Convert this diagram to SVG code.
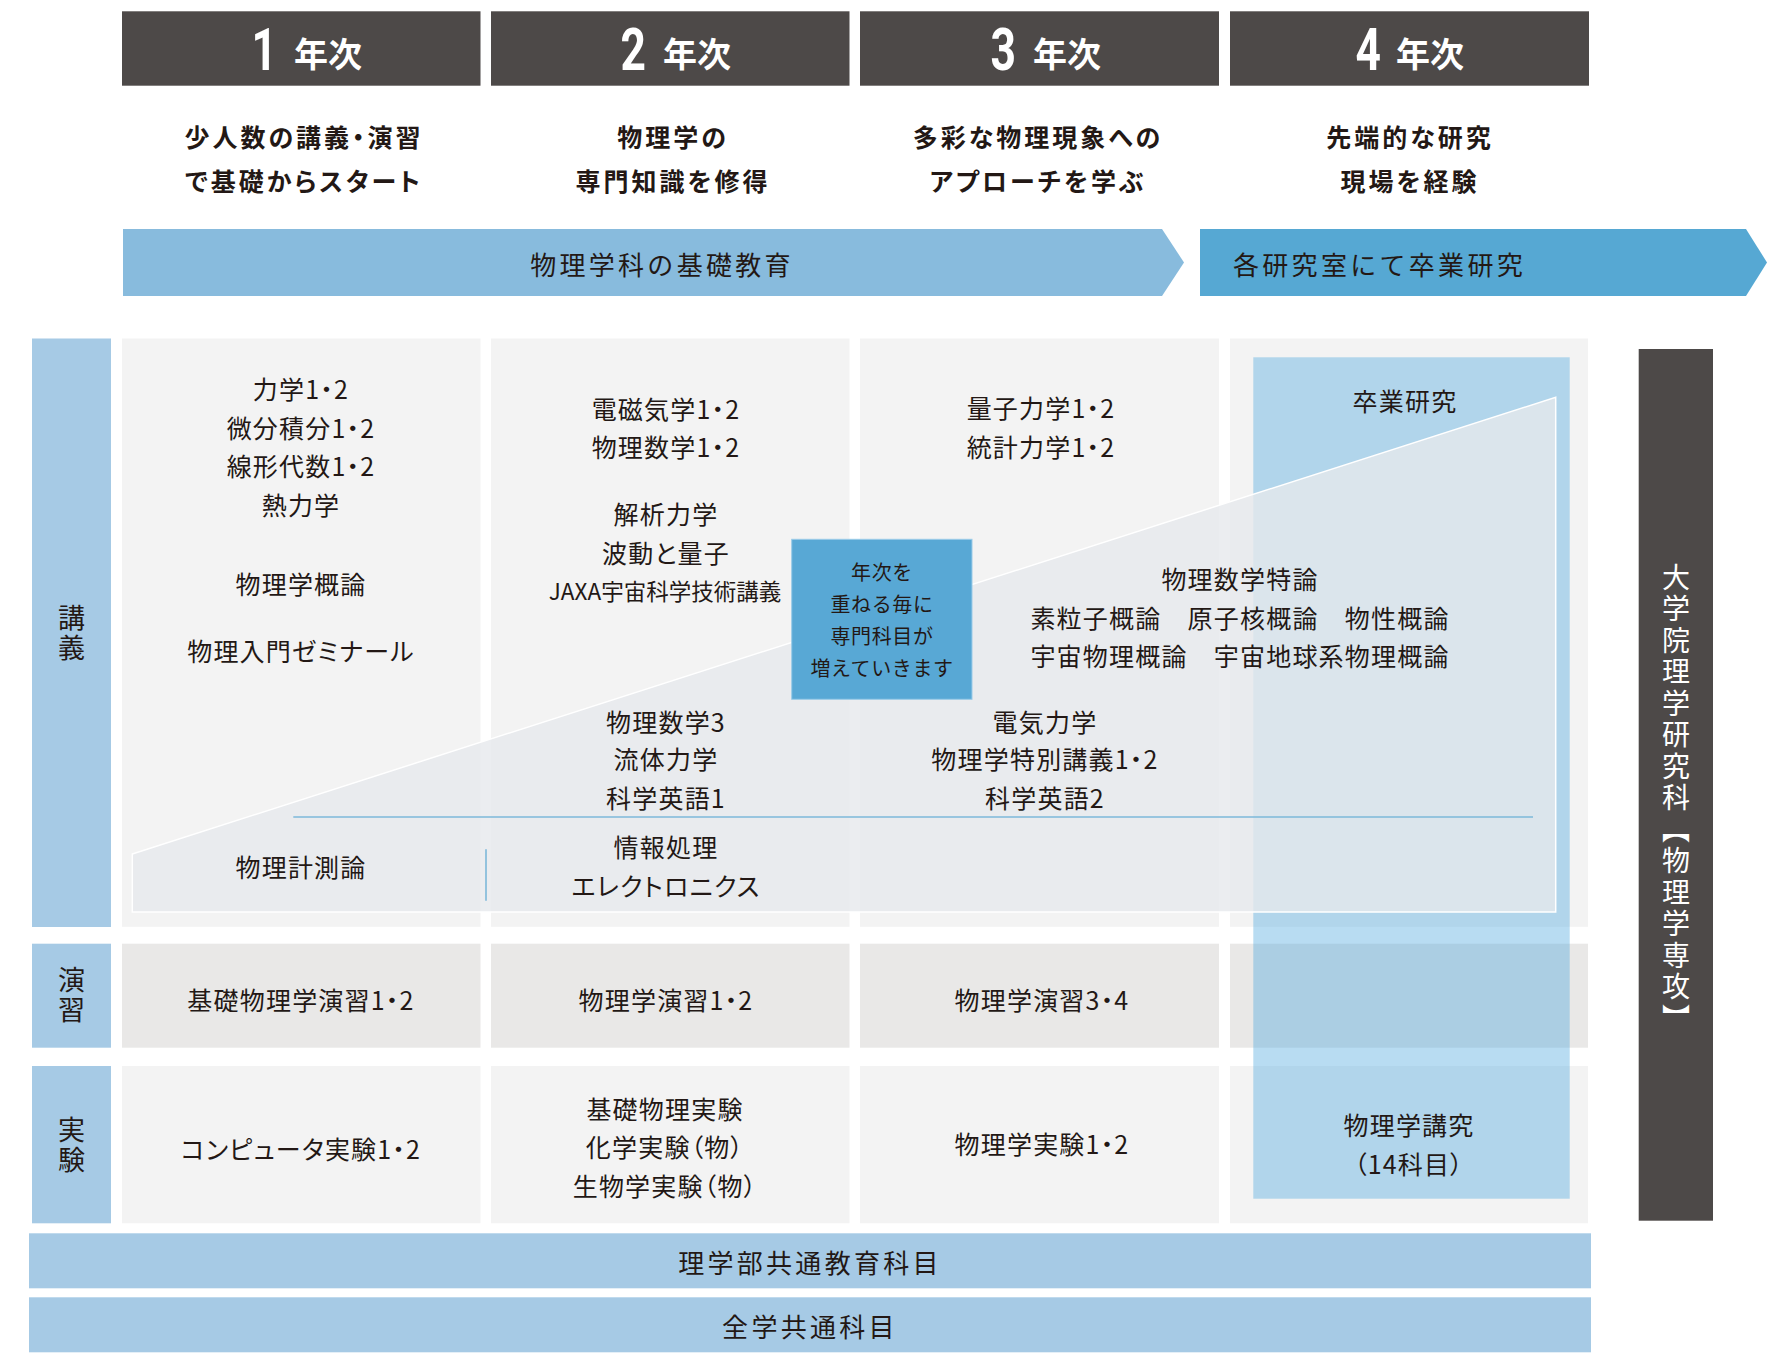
<svg xmlns="http://www.w3.org/2000/svg" width="1778" height="1370" viewBox="0 0 1778 1370">
<style>
.hdr{fill:#4D4948}
.num{font-family:Roboto,"Liberation Sans",sans-serif;font-weight:700;font-size:60px;fill:#fff;text-anchor:end}
.yr{font-family:"Noto Sans CJK JP",sans-serif;font-weight:700;font-size:34px;fill:#fff;dominant-baseline:central}
.sub{font-family:"Noto Sans CJK JP",sans-serif;font-weight:700;font-size:25px;letter-spacing:3px;fill:#231815;text-anchor:middle;dominant-baseline:central;font-feature-settings:"palt" 1}
.ban{font-family:"Noto Sans CJK JP",sans-serif;font-size:26px;letter-spacing:3.3px;fill:#231815;dominant-baseline:central}
.cell{fill:#F3F3F3}
.cellx{fill:#E9E8E7}
.lab{fill:#A6CAE5}
.t{font-family:"Noto Sans CJK JP",sans-serif;font-size:25px;letter-spacing:1.2px;fill:#231815;text-anchor:middle;dominant-baseline:central;font-feature-settings:"palt" 1}
.lt{font-family:"Noto Sans CJK JP",sans-serif;font-size:27px;letter-spacing:3px;fill:#231815;writing-mode:vertical-rl}
.bt{font-family:"Noto Sans CJK JP",sans-serif;font-size:20px;letter-spacing:0.6px;fill:#231815;text-anchor:middle;dominant-baseline:central}
.div{stroke:#7DB8DA;stroke-width:1.6;fill:none}
</style>

<g id="year-headers">
  <rect class="hdr" x="122" y="11.3" width="358.5" height="74.4"/>
  <rect class="hdr" x="491" y="11.3" width="358.5" height="74.4"/>
  <rect class="hdr" x="860" y="11.3" width="359" height="74.4"/>
  <rect class="hdr" x="1230" y="11.3" width="359" height="74.4"/>
  <text class="num" transform="translate(277,70) scale(0.74,1)">1</text>
  <text class="yr" x="294" y="52">年次</text>
  <text class="num" transform="translate(646,70) scale(0.74,1)">2</text>
  <text class="yr" x="663" y="52">年次</text>
  <text class="num" transform="translate(1016,70) scale(0.74,1)">3</text>
  <text class="yr" x="1033" y="52">年次</text>
  <text class="num" transform="translate(1381,70) scale(0.74,1)">4</text>
  <text class="yr" x="1396" y="52">年次</text>
</g>

<g id="year-goals">
  <text class="sub" x="304" y="136">少人数の講義・演習</text>
  <text class="sub" x="304" y="180">で基礎からスタート</text>
  <text class="sub" x="673" y="136">物理学の</text>
  <text class="sub" x="673" y="180">専門知識を修得</text>
  <text class="sub" x="1038" y="136">多彩な物理現象への</text>
  <text class="sub" x="1038" y="180">アプローチを学ぶ</text>
  <text class="sub" x="1410" y="136">先端的な研究</text>
  <text class="sub" x="1410" y="180">現場を経験</text>
</g>

<g id="banner-basic">
  <polygon points="123,229 1162,229 1184,262.5 1162,296 123,296" fill="#88BBDD"/>
  <text class="ban" x="662" y="263" text-anchor="middle">物理学科の基礎教育</text>
</g>
<g id="banner-research">
  <polygon points="1200,229 1746,229 1767,262.5 1746,296 1200,296" fill="#56A8D3"/>
  <text class="ban" x="1233" y="263">各研究室にて卒業研究</text>
</g>

<g id="row-labels">
  <rect class="lab" x="32" y="338.5" width="79" height="588.5"/>
  <text class="lt" x="71.5" y="604">講義</text>
  <rect class="lab" x="32" y="943.7" width="79" height="104"/>
  <text class="lt" x="71.5" y="966.5">演習</text>
  <rect class="lab" x="32" y="1066" width="79" height="157.3"/>
  <text class="lt" x="71.5" y="1116.5">実験</text>
</g>

<g id="cells">
  <rect class="cell" x="122" y="338.5" width="358.5" height="588.3"/>
  <rect class="cell" x="491" y="338.5" width="358.5" height="588.3"/>
  <rect class="cell" x="860" y="338.5" width="359" height="588.3"/>
  <rect class="cell" x="1230" y="338.5" width="358" height="588.3"/>
  <rect class="cellx" x="122" y="943.7" width="358.5" height="104"/>
  <rect class="cellx" x="491" y="943.7" width="358.5" height="104"/>
  <rect class="cellx" x="860" y="943.7" width="359" height="104"/>
  <rect class="cellx" x="1230" y="943.7" width="358" height="104"/>
  <rect class="cell" x="122" y="1066" width="358.5" height="157.3"/>
  <rect class="cell" x="491" y="1066" width="358.5" height="157.3"/>
  <rect class="cell" x="860" y="1066" width="359" height="157.3"/>
  <rect class="cell" x="1230" y="1066" width="358" height="157.3"/>
</g>

<g id="graduation-research-box">
  <rect x="1253.3" y="357.3" width="316.4" height="841.4" fill="#4EA7DE" fill-opacity="0.4"/>
</g>

<g id="growth-wedge">
  <polygon points="132.3,854 1555.7,397.3 1555.7,912 132.3,912" fill="#E6E8EC" fill-opacity="0.8" stroke="#FFFFFF" stroke-width="1.5"/>
</g>

<g id="dividers">
  <line class="div" x1="293.3" y1="817" x2="1533" y2="817"/>
  <line class="div" x1="486" y1="849.3" x2="486" y2="900.7"/>
</g>

<g id="note-box">
  <rect x="791.7" y="539.3" width="180.3" height="160" fill="#58A8D5" stroke="#9ACBE8" stroke-width="1"/>
  <text class="bt" x="882" y="571">年次を</text>
  <text class="bt" x="882" y="603">重ねる毎に</text>
  <text class="bt" x="882" y="635">専門科目が</text>
  <text class="bt" x="882" y="667.5">増えていきます</text>
</g>

<g id="year1-courses">
  <text class="t" x="301" y="387.5">力学1・2</text>
  <text class="t" x="301" y="426.7">微分積分1・2</text>
  <text class="t" x="301" y="465">線形代数1・2</text>
  <text class="t" x="301" y="504">熱力学</text>
  <text class="t" x="301" y="583">物理学概論</text>
  <text class="t" x="301" y="650">物理入門ゼミナール</text>
  <text class="t" x="301" y="865.7">物理計測論</text>
  <text class="t" x="301" y="999">基礎物理学演習1・2</text>
  <text class="t" x="301" y="1147.5">コンピュータ実験1・2</text>
</g>

<g id="year2-courses">
  <text class="t" x="666" y="407.5">電磁気学1・2</text>
  <text class="t" x="666" y="446">物理数学1・2</text>
  <text class="t" x="666" y="513">解析力学</text>
  <text class="t" x="666" y="552">波動と量子</text>
  <text class="t" x="665" y="590" style="font-size:22.5px;letter-spacing:0px">JAXA宇宙科学技術講義</text>
  <text class="t" x="666" y="720.8">物理数学3</text>
  <text class="t" x="666" y="758.3">流体力学</text>
  <text class="t" x="666" y="796.7">科学英語1</text>
  <text class="t" x="666" y="845.8">情報処理</text>
  <text class="t" x="666" y="885">エレクトロニクス</text>
  <text class="t" x="666" y="999">物理学演習1・2</text>
  <text class="t" x="665" y="1107.5">基礎物理実験</text>
  <text class="t" x="665" y="1146.2">化学実験（物）</text>
  <text class="t" x="665" y="1185">生物学実験（物）</text>
</g>

<g id="year3-courses">
  <text class="t" x="1041" y="407">量子力学1・2</text>
  <text class="t" x="1041" y="446">統計力学1・2</text>
  <text class="t" x="1045" y="720.8">電気力学</text>
  <text class="t" x="1045" y="758.3">物理学特別講義1・2</text>
  <text class="t" x="1045" y="796.7">科学英語2</text>
  <text class="t" x="1042" y="999">物理学演習3・4</text>
  <text class="t" x="1042" y="1142.5">物理学実験1・2</text>
</g>

<g id="year4-courses">
  <text class="t" x="1405" y="399.7">卒業研究</text>
  <text class="t" x="1240" y="578">物理数学特論</text>
  <text class="t" x="1240" y="616.7">素粒子概論　原子核概論　物性概論</text>
  <text class="t" x="1240" y="655.3">宇宙物理概論　宇宙地球系物理概論</text>
  <text class="t" x="1409" y="1124">物理学講究</text>
  <text class="t" x="1409" y="1163.3">（14科目）</text>
</g>

<g id="graduate-school">
  <rect x="1638.7" y="349" width="74.3" height="871.7" fill="#4D4948"/>
  <text x="1676" y="563" style="writing-mode:vertical-rl;font-family:'Noto Sans CJK JP',sans-serif;font-size:28px;letter-spacing:3.5px;fill:#fff">大学院理学研究科【物理学専攻】</text>
</g>

<g id="common-subjects">
  <rect class="lab" x="29" y="1233.3" width="1562" height="55"/>
  <text class="ban" x="810" y="1261" text-anchor="middle">理学部共通教育科目</text>
  <rect class="lab" x="29" y="1297.3" width="1562" height="55"/>
  <text class="ban" x="810" y="1325.3" text-anchor="middle">全学共通科目</text>
</g>
</svg>
